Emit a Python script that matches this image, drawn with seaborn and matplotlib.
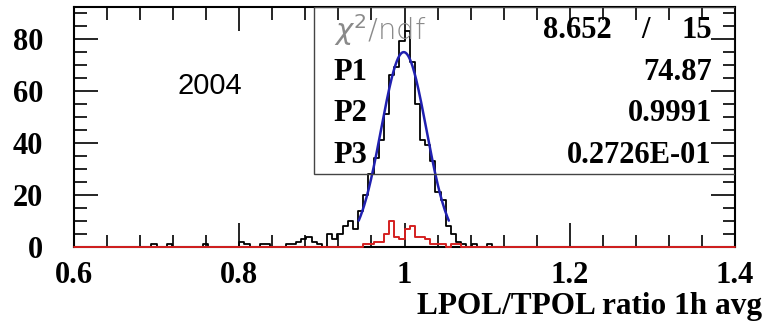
import numpy as np
import pandas as pd
import matplotlib
matplotlib.use("Agg")
import matplotlib.pyplot as plt
from matplotlib.ticker import MultipleLocator, FixedLocator
import seaborn as sns

sns.set_theme(style="white")
plt.rcParams["font.family"] = ["Liberation Serif", "DejaVu Serif"]
plt.rcParams["mathtext.fontset"] = "dejavusans"
plt.rcParams["text.color"] = "black"
plt.rcParams["axes.labelcolor"] = "black"
plt.rcParams["xtick.color"] = "black"
plt.rcParams["ytick.color"] = "black"

# Histogram binning: 0.6 .. 1.4 in steps of 0.00625
x_min, x_max = 0.6, 1.4
bin_width = 0.00625

# All entries: counts for consecutive bins starting at 0.69375
all_start = 0.69375
all_counts = [1, 0, 0, 1, 0, 0, 0, 0, 0, 0, 1, 0, 0, 0, 0, 0, 0, 2, 1, 0,
              0, 1, 1, 0, 0, 0, 1, 1, 2, 3, 4, 2, 1, 0, 5, 3, 5, 8, 10, 7,
              14, 20, 28, 34, 41, 51, 66, 69, 79, 83, 71, 55, 41, 39, 33, 21, 18, 8, 5, 2,
              1, 0, 1, 0, 0, 1]

# Selected subset: counts for consecutive bins starting at 0.95
sel_start = 0.95
sel_counts = [1, 1, 2, 2, 5, 10, 4, 3, 7, 8, 4, 4, 3, 1, 1, 1, 0, 1, 1]

# Gaussian fit result
fit_chi2, fit_ndf = 8.652, 15
p1, p2, p3 = 74.87, 0.9991, 0.02726
p3_label = "0.2726E-01"

year_label = "2004"
x_label = "LPOL/TPOL ratio 1h avg"
x_ticks = [0.6, 0.8, 1.0, 1.2, 1.4]
x_tick_labels = ["0.6", "0.8", "1", "1.2", "1.4"]
y_ticks = [0, 20, 40, 60, 80]

edges = np.round(np.arange(x_min, x_max + bin_width / 2, bin_width), 6)
centers = (edges[:-1] + edges[1:]) / 2


def full_counts(start, counts):
    out = np.zeros(len(centers))
    i0 = int(round((start - x_min) / bin_width))
    out[i0:i0 + len(counts)] = counts
    return out


df_all = pd.DataFrame({"ratio": centers, "n": full_counts(all_start, all_counts)})
df_sel = pd.DataFrame({"ratio": centers, "n": full_counts(sel_start, sel_counts)})

fig = plt.figure(figsize=(7.63, 3.23), dpi=100)
ax = fig.add_axes([74 / 763, 76 / 323, 661 / 763, 240 / 323])

bin_list = [float(e) for e in edges]
sns.histplot(data=df_all, x="ratio", weights="n", bins=bin_list,
             element="step", fill=False, color="black", linewidth=1.3, ax=ax)
n_before = len(ax.lines)
sns.histplot(data=df_sel, x="ratio", weights="n", bins=bin_list,
             element="step", fill=False, color="#d42020", linewidth=1.4, ax=ax)
# keep the red outline (including its zero level) on top of the frame
for ln in ax.lines[n_before:]:
    ln.set_zorder(4)
    ln.set_clip_on(False)

# Fitted Gaussian over mean +/- 2 sigma
xf = np.linspace(p2 - 2 * p3, p2 + 2 * p3, 200)
yf = p1 * np.exp(-0.5 * ((xf - p2) / p3) ** 2)
sns.lineplot(x=xf, y=yf, color="#2020b0", linewidth=1.8, ax=ax, sort=False)

ax.set_xlim(x_min, x_max)
ax.set_ylim(0, 92.2)
ax.set_xlabel("")
ax.set_ylabel("")
ax.xaxis.set_major_locator(FixedLocator(x_ticks))
ax.set_xticklabels(x_tick_labels)
ax.xaxis.set_minor_locator(MultipleLocator(0.04))
ax.yaxis.set_major_locator(FixedLocator(y_ticks))
ax.yaxis.set_minor_locator(MultipleLocator(5))
ax.tick_params(which="both", direction="in", top=True, right=True,
               bottom=True, left=True, colors="black", width=1.2)
ax.tick_params(which="major", length=17)
ax.tick_params(which="minor", length=9)
ax.tick_params(axis="x", which="major", pad=10, labelsize=22)
ax.tick_params(axis="y", which="major", pad=22, labelsize=22)
for lab in ax.get_xticklabels() + ax.get_yticklabels():
    lab.set_fontweight("bold")
for s in ax.spines.values():
    s.set_color("black")
    s.set_linewidth(1.5)

# Statistics box
box_x0, box_y0 = 240 / 661, 73 / 240
ax.add_patch(plt.Rectangle((box_x0, box_y0), 1 - box_x0, 1 - box_y0,
                           transform=ax.transAxes, fill=False,
                           edgecolor="#444444", linewidth=1.0, zorder=5))
lx, rx = 0.393, 0.965
rows = [0.904, 0.729, 0.558, 0.383]
ax.text(lx, rows[0], r"$\chi^2$/ndf", transform=ax.transAxes, ha="left",
        va="center", fontsize=21, color="#8a8a8a", family="DejaVu Sans",
        fontweight="light", zorder=6)
ax.text(0.814, rows[0], f"{fit_chi2:.3f}", transform=ax.transAxes,
        ha="right", va="center", fontsize=22, fontweight="bold", zorder=6)
ax.text(0.864, rows[0], "/", transform=ax.transAxes,
        ha="center", va="center", fontsize=22, fontweight="bold", zorder=6)
ax.text(rx, rows[0], f"{fit_ndf}", transform=ax.transAxes,
        ha="right", va="center", fontsize=22, fontweight="bold", zorder=6)
for name, val, ry in zip(["P1", "P2", "P3"],
                         [f"{p1:.2f}", f"{p2:.4f}", p3_label], rows[1:]):
    ax.text(lx, ry, name, transform=ax.transAxes, ha="left", va="center",
            fontsize=22, fontweight="bold", zorder=6)
    ax.text(rx, ry, val, transform=ax.transAxes, ha="right", va="center",
            fontsize=22, fontweight="bold", zorder=6)

ax.text(0.7646, 61.7, year_label, ha="center", va="center", fontsize=21,
        family="Liberation Sans", color="black")

fig.text(762 / 763, 9 / 323, x_label, ha="right", va="baseline",
         fontsize=22.5, fontweight="bold")

fig.savefig("out.png", dpi=100, facecolor="white")
